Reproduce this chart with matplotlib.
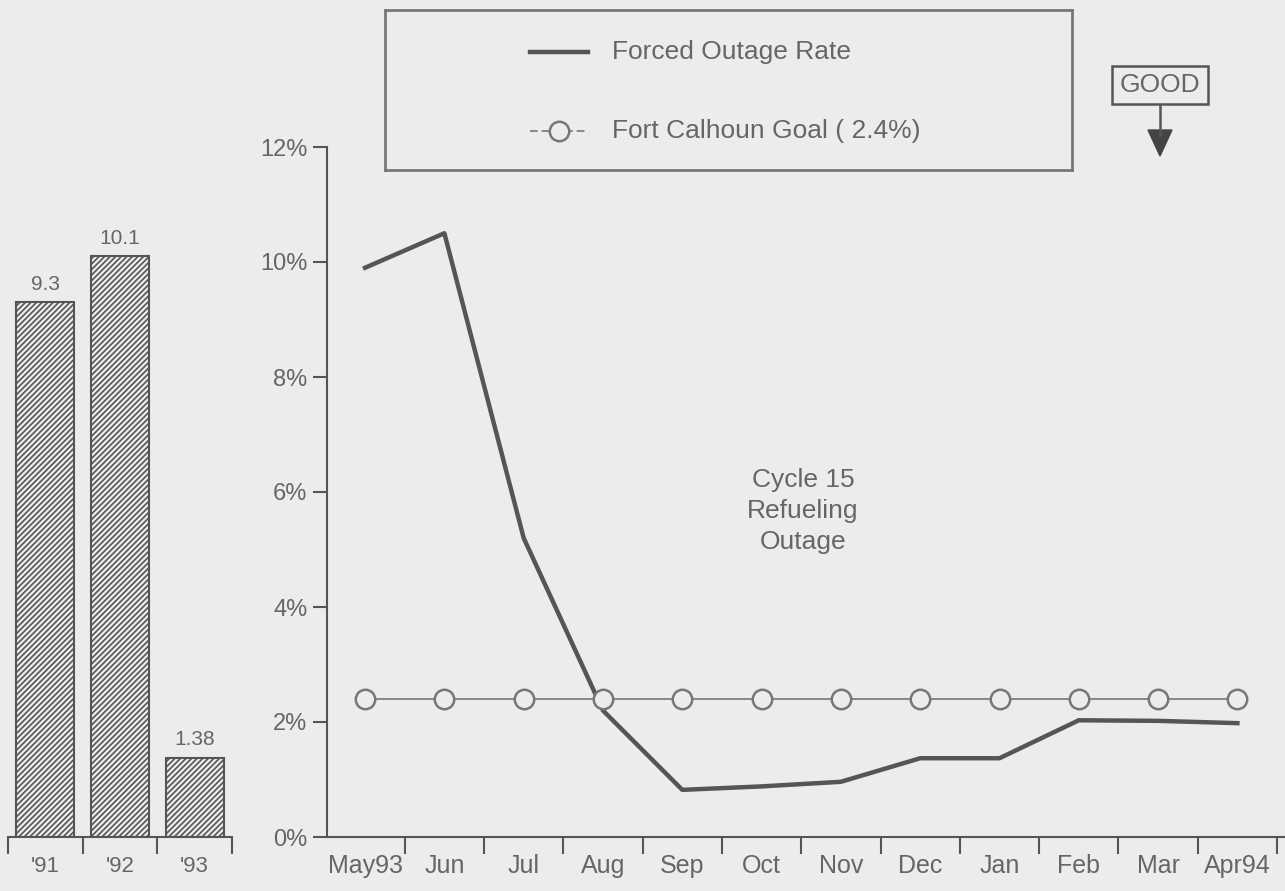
import numpy as np
import matplotlib
matplotlib.use("Agg")
import matplotlib.pyplot as plt

plt.rcParams['font.family'] = ['Liberation Sans', 'DejaVu Sans']
plt.rcParams['hatch.linewidth'] = 1.2
plt.rcParams['hatch.color'] = '#555555'

# data
years = ["'91", "'92", "'93"]
year_rates = [9.3, 10.1, 1.38]
year_labels = ["9.3", "10.1", "1.38"]

months = ["May93", "Jun", "Jul", "Aug", "Sep", "Oct", "Nov", "Dec",
          "Jan", "Feb", "Mar", "Apr94"]
forced_outage = [9.9, 10.5, 5.2, 2.2, 0.82, 0.88, 0.96, 1.37, 1.37, 2.03, 2.02, 1.98]
goal = [2.4] * len(months)

bg = '#ececec'
dark = '#555555'
txt = '#666666'
fs = 18

fig = plt.figure(figsize=(12.85, 8.91), dpi=100)
fig.patch.set_facecolor(bg)

# left: yearly bars
axl = fig.add_axes([8/1285, 54/891, 224/1285, 690/891])
axl.set_facecolor('none')
xb = np.arange(len(years))
axl.bar(xb, year_rates, width=0.78, facecolor=bg, edgecolor=dark,
        hatch='//////', linewidth=1.5)
for x, v, lab in zip(xb, year_rates, year_labels):
    axl.text(x, v + 0.15, lab, ha='center', va='bottom', fontsize=15, color=txt)
axl.set_xlim(-0.5, 2.5)
axl.set_ylim(0, 12)
axl.set_xticks(xb)
axl.set_xticklabels(years, fontsize=16, color=txt)
axl.set_xticks([-0.5, 0.5, 1.5, 2.5], minor=True)
axl.tick_params(axis='x', which='major', length=0, pad=14)
axl.tick_params(axis='x', which='minor', length=12, width=1.5, color=dark)
axl.set_yticks([])
for s in ['left', 'right', 'top']:
    axl.spines[s].set_visible(False)
axl.spines['bottom'].set_color(dark)
axl.spines['bottom'].set_linewidth(1.5)

# right: monthly trend
ax = fig.add_axes([327/1285, 54/891, 958/1285, 690/891])
ax.set_facecolor('none')
xm = np.arange(len(months))
ax.plot(xm, goal, color='#888888', linewidth=1.4, marker='o', markersize=14,
        markerfacecolor=bg, markeredgecolor='#777777', markeredgewidth=1.8, zorder=3)
ax.plot(xm, forced_outage, color=dark, linewidth=3.2, zorder=2)
ax.set_xlim(-0.48, 11.6)
ax.set_ylim(0, 12)
ax.set_xticks(xm)
ax.set_xticklabels(months, fontsize=fs, color=txt)
ax.set_xticks(np.arange(0.5, 12, 1.0), minor=True)
ax.tick_params(axis='x', which='major', length=0, pad=12)
ax.tick_params(axis='x', which='minor', length=12, width=1.5, color=dark)
ax.set_yticks(np.arange(0, 13, 2))
ax.set_yticklabels([f"{v}%" for v in range(0, 13, 2)], fontsize=17, color=txt)
ax.tick_params(axis='y', length=10, width=1.5, color=dark, pad=4)
for s in ['right', 'top']:
    ax.spines[s].set_visible(False)
for s in ['left', 'bottom']:
    ax.spines[s].set_color(dark)
    ax.spines[s].set_linewidth(1.5)

ax.text(5.52, 5.67, "Cycle 15\nRefueling\nOutage", ha='center', va='center',
        fontsize=19, color=txt, linespacing=1.38)

# legend box
axg = fig.add_axes([385/1285, 1 - 170/891, 687/1285, 160/891])
axg.set_facecolor('none')
axg.set_xlim(0, 687)
axg.set_ylim(160, 0)
axg.set_xticks([])
axg.set_yticks([])
for s in axg.spines.values():
    s.set_color('#777777')
    s.set_linewidth(2)
axg.plot([145, 203], [42, 42], color=dark, linewidth=3.2)
axg.text(227, 42, "Forced Outage Rate", fontsize=19, color=txt, va='center')
axg.plot([145, 203], [121, 121], color='#888888', linewidth=1.4, dashes=(4, 2))
axg.plot([174], [121], marker='o', markersize=14, markerfacecolor=bg,
         markeredgecolor='#777777', markeredgewidth=1.8)
axg.text(227, 121, "Fort Calhoun Goal ( 2.4%)", fontsize=19, color=txt, va='center')

# GOOD indicator
fig.text(1160/1285, 1 - 85/891, "GOOD", ha='center', va='center', fontsize=19,
         color=txt, bbox=dict(boxstyle='square,pad=0.28', facecolor=bg,
                              edgecolor='#555555', linewidth=1.8))
fig.add_artist(plt.Line2D([1160/1285, 1160/1285], [1 - 104/891, 1 - 135/891],
                          color=dark, linewidth=1.8))
fig.add_artist(plt.Polygon([[1148/1285, 1 - 130/891], [1172/1285, 1 - 130/891],
                            [1160/1285, 1 - 156/891]], closed=True,
                           facecolor='#444444', edgecolor='#444444'))

fig.savefig("out.png", dpi=100, facecolor=bg)
